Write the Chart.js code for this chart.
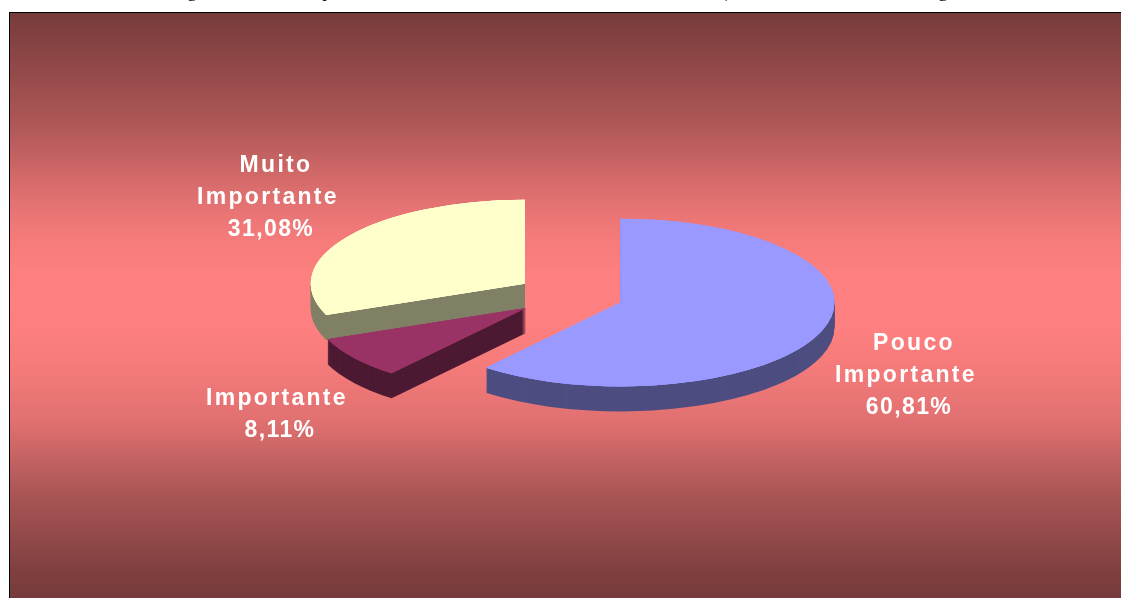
<!DOCTYPE html>
<html>
<head>
<meta charset="utf-8">
<style>
  html, body { margin: 0; padding: 0; background: #fff; overflow: hidden; }
  canvas { display: block; }
</style>
<script src="https://cdn.jsdelivr.net/npm/chart.js@4"></script>
</head>
<body>
<canvas id="mycanvas" width="1121" height="598"></canvas>
<script>
const categories = ["Pouco Importante", "Importante", "Muito Importante"];
const shares = [60.81, 8.11, 31.08];

const topColors = ["#9999ff", "#993366", "#ffffcc"];
const wallColors = ["#4d4d80", "#4d1a33", "#808066"];
const labelCenters = [[906, 376], [277, 415], [268, 198]];
// background bands, [screen y, colour]
const bgStops = [
    [13, "#773b3b"], [122, "#ad5656"], [197, "#e07070"], [235, "#f47a7a"],
    [272, "#fd7f7f"], [302, "#ff8080"], [332, "#fd7f7f"], [370, "#f47a7a"],
    [422, "#e07070"], [497, "#a85454"], [572, "#7f3f3f"], [598, "#763b3b"]
];

const TILT = 0.392;      // squash of the pie plane
const DEPTH = 25;        // wall height in px
const PIE_Y = 295.5;     // where the pie centre lands on screen
const EXPLODE = 54;      // chart.js scales its offset option per slice, so pull them out here

function tilt(chart, ctx) {
    const cy = (chart.chartArea.top + chart.chartArea.bottom) / 2;
    ctx.translate(0, PIE_Y);
    ctx.scale(1, TILT);
    ctx.translate(0, -cy);
}

function pullOut(ctx, arc) {
    const mid = (arc.startAngle + arc.endAngle) / 2;
    ctx.translate(Math.cos(mid) * EXPLODE, Math.sin(mid) * EXPLODE);
}

const pie3d = {
    id: "pie3d",
    beforeDraw(chart) {
        const ctx = chart.ctx;
        const g = ctx.createLinearGradient(0, 13, 0, 598);
        bgStops.forEach(([y, c]) => g.addColorStop((y - 13) / 585, c));
        ctx.save();
        ctx.fillStyle = "#000";
        ctx.fillRect(9, 12, 1112, 586);
        ctx.fillStyle = g;
        ctx.fillRect(10, 13, 1111, 585);
        // only the descenders of the caption above the chart are left in the crop
        ctx.fillStyle = "#000";
        ctx.font = "19px 'Liberation Serif'";
        ctx.textAlign = "center";
        ctx.textBaseline = "alphabetic";
        ctx.fillText("g", 192, -3);
        ctx.fillText("p", 327, -3);
        ctx.fillText(",", 727, -2);
        ctx.fillText("g", 943, -3);
        ctx.restore();
    },
    beforeDatasetDraw(chart, args) {
        const ctx = chart.ctx;
        const arcs = args.meta.data;
        ctx.save();
        tilt(chart, ctx);
        // side walls first: each arc stamped downwards in its dark colour
        arcs.forEach((arc, i) => {
            const fill = arc.options.backgroundColor;
            arc.options.backgroundColor = wallColors[i];
            for (let d = DEPTH; d > 0; d--) {
                ctx.save();
                ctx.translate(0, d / TILT);
                pullOut(ctx, arc);
                arc.draw(ctx);
                ctx.restore();
            }
            arc.options.backgroundColor = fill;
        });
        // tops, three passes so the dark walls don't bleed through the antialiased edges
        for (let pass = 0; pass < 3; pass++) {
            arcs.forEach(arc => {
                ctx.save();
                pullOut(ctx, arc);
                arc.draw(ctx);
                ctx.restore();
            });
        }
        ctx.restore();
        return false;
    },
    afterDraw(chart) {
        const ctx = chart.ctx;
        ctx.save();
        ctx.fillStyle = "#fff";
        ctx.font = "bold 23px 'Liberation Sans'";
        ctx.textAlign = "center";
        ctx.textBaseline = "middle";
        categories.forEach((name, i) => {
            const lines = name.split(" ");
            lines.push(shares[i].toFixed(2).replace(".", ",") + "%");
            const [x, y] = labelCenters[i];
            const y0 = y - (lines.length - 1) * 16;
            lines.forEach((s, n) => {
                const isPct = n === lines.length - 1;
                ctx.letterSpacing = isPct ? "1.4px" : "2.3px";
                const dx = s === "Importante" ? 0 : isPct ? 3 : 8;
                ctx.fillText(s, x + dx, y0 + n * 32);
            });
        });
        ctx.restore();
    }
};

const canvas = document.getElementById("mycanvas");
const chart = new Chart(canvas.getContext("2d"), {
    type: "pie",
    data: {
        labels: categories,
        datasets: [
            {
                data: shares,
                backgroundColor: topColors,
                borderWidth: 0,
                radius: 214
            }
        ]
    },
    options: {
        responsive: false,
        animation: false,
        layout: { padding: { left: 18 } },
        plugins: {
            legend: { display: false },
            title: { display: false },
            tooltip: { enabled: false }
        }
    },
    plugins: [pie3d]
});
</script>
</body>
</html>
